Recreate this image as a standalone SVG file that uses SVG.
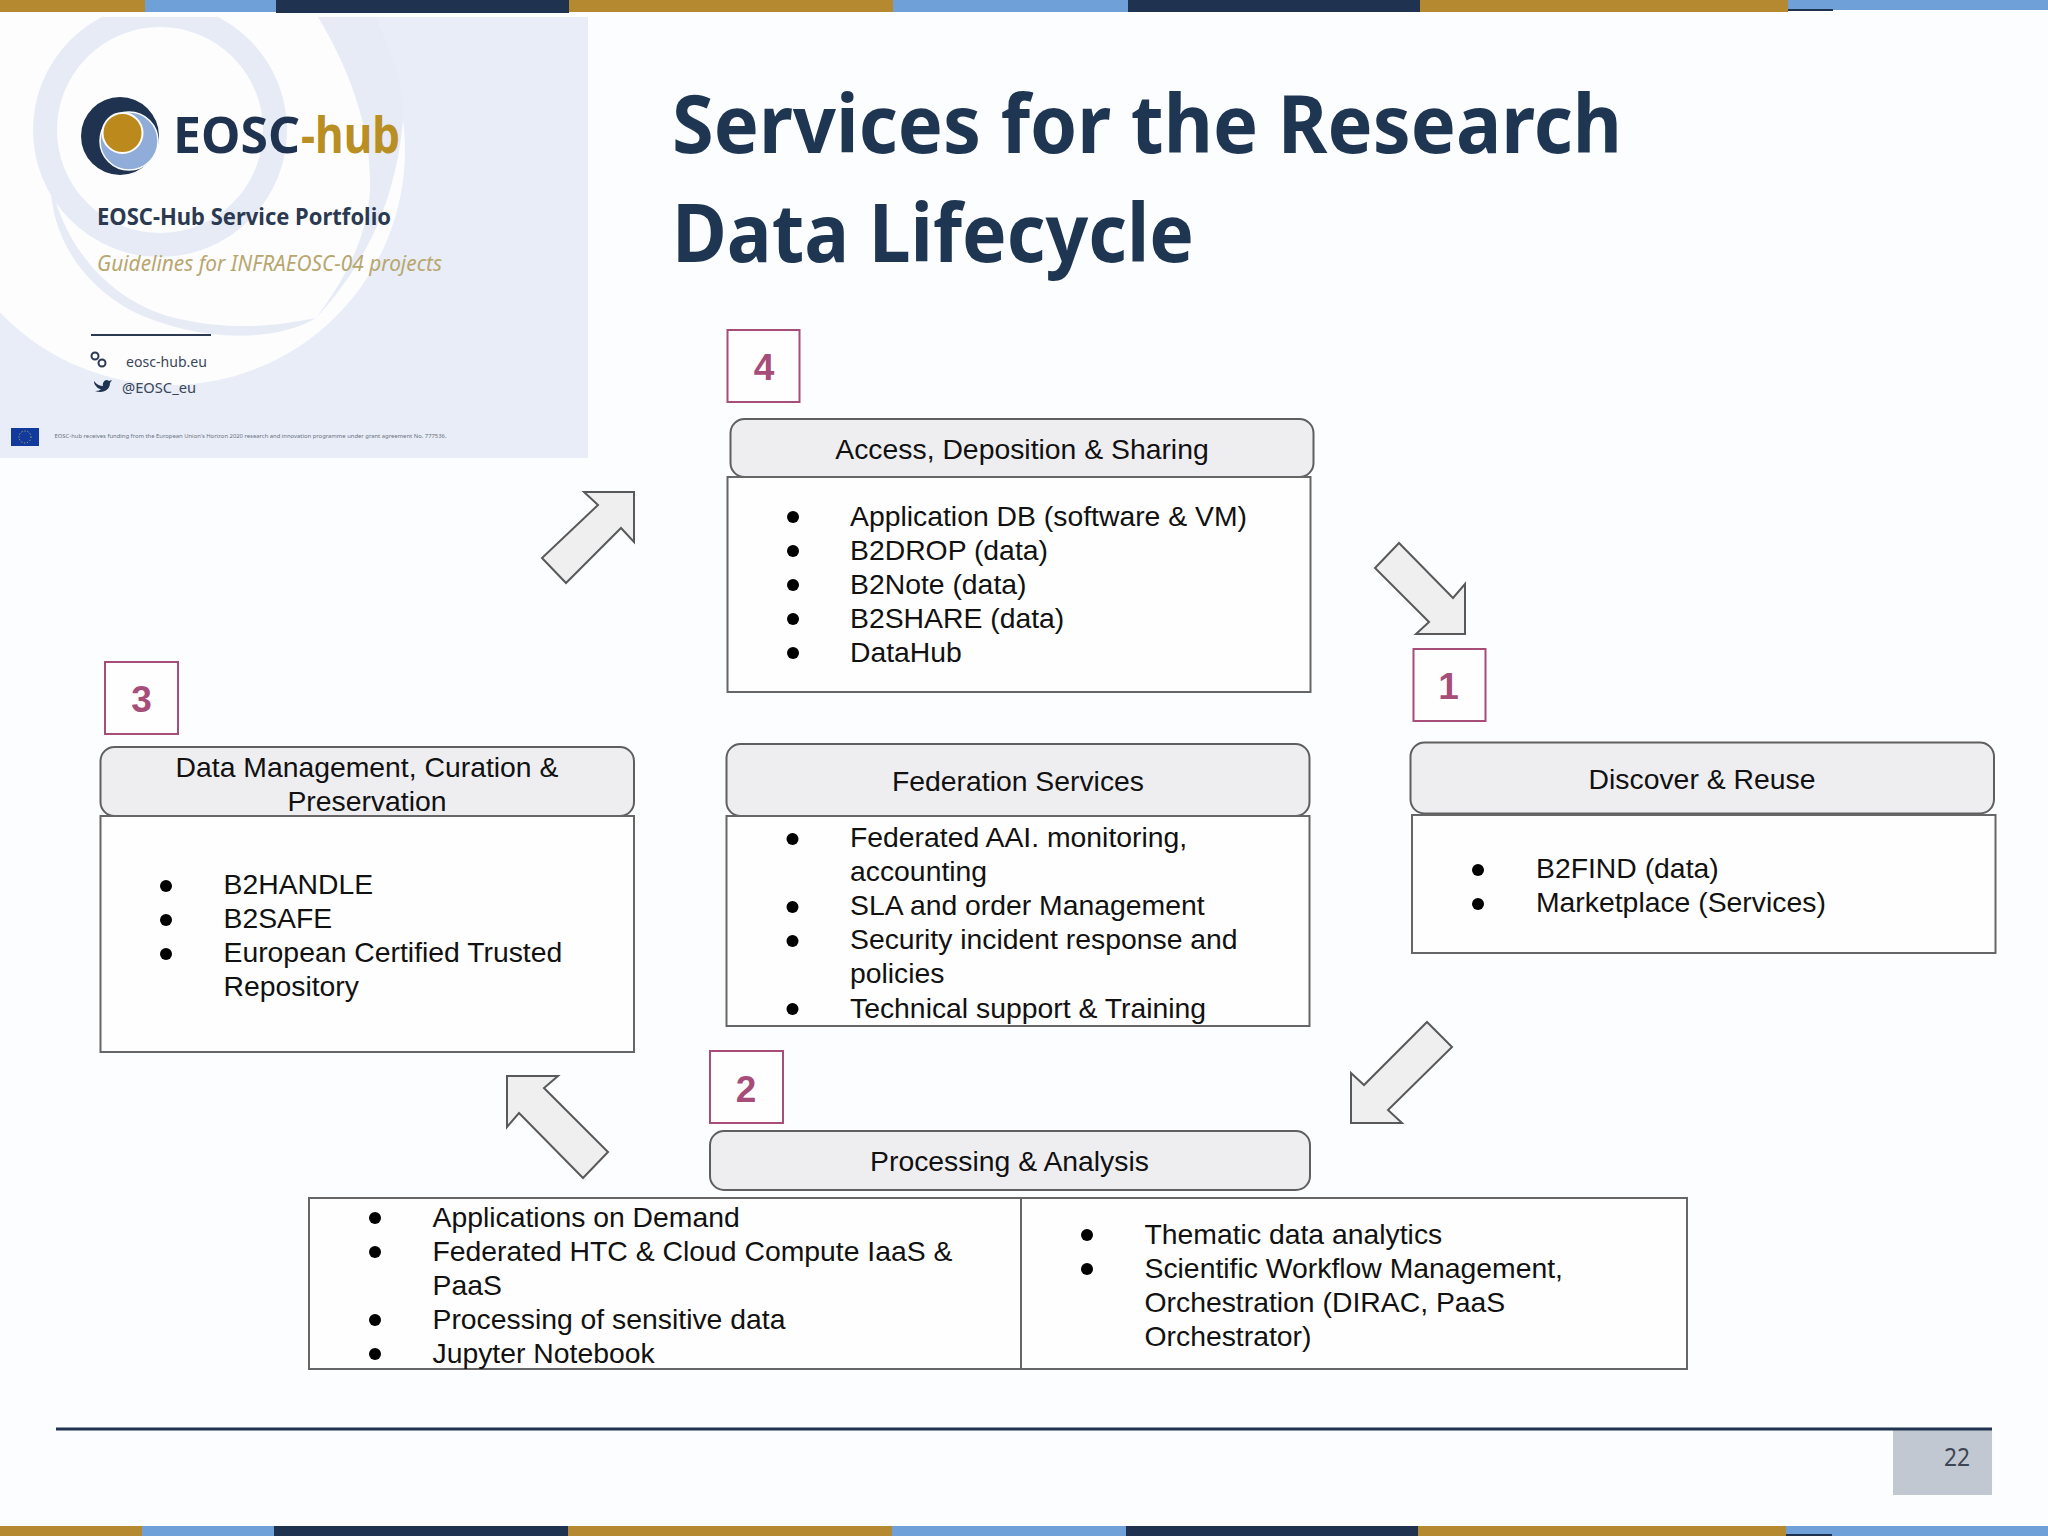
<svg xmlns="http://www.w3.org/2000/svg" width="2048" height="1536" viewBox="0 0 2048 1536">
<style>
text{font-family:"Liberation Sans",Arial,sans-serif;fill:#111}
.l{font-size:28.35px}
.c{text-anchor:middle;font-size:28.35px}
.hd{fill:#eeeef1;stroke:#5f5f5f;stroke-width:2}
.bx{fill:#fefefe;stroke:#666;stroke-width:2}
.sq{fill:#fefefe;stroke:#a64d79;stroke-width:2}
.n{font-size:37px;font-weight:bold;fill:#a64d79;text-anchor:middle}
.ar{fill:#efefef;stroke:#595959;stroke-width:2;stroke-linejoin:miter}
.b{fill:#000}
.t{font-family:"Noto Sans","Open Sans",sans-serif;font-weight:bold;fill:#1f3652;font-size:80px}
.ins{font-family:"Noto Sans","Open Sans",sans-serif}
.gold{fill:#b5892f}.blue{fill:#6fa0d8}.dark{fill:#1f3350}
</style>
<rect width="2048" height="1536" fill="#fcfdfe"/>
<g id="top-bar">
<rect class="gold" x="0" y="0" width="145" height="12"/><rect class="blue" x="145" y="0" width="131" height="12"/><rect class="dark" x="276" y="0" width="293" height="13"/><rect class="gold" x="569" y="0" width="324" height="12"/><rect class="blue" x="893" y="0" width="235" height="12"/><rect class="dark" x="1128" y="0" width="292" height="12"/><rect class="gold" x="1420" y="0" width="368" height="12"/><rect class="blue" x="1788" y="0" width="260" height="10"/><rect class="dark" x="1788" y="9" width="45" height="2"/>
</g>
<g id="bottom-bar">
<rect class="gold" x="0" y="1526" width="142" height="10"/><rect class="blue" x="142" y="1526" width="132" height="10"/><rect class="dark" x="274" y="1526" width="294" height="10"/><rect class="gold" x="568" y="1526" width="324" height="10"/><rect class="blue" x="892" y="1526" width="234" height="10"/><rect class="dark" x="1126" y="1526" width="292" height="10"/><rect class="gold" x="1418" y="1526" width="368" height="10"/><rect class="blue" x="1786" y="1526" width="262" height="10"/><rect class="dark" x="1786" y="1534" width="46" height="2"/>
</g>
<g id="inset">
<clipPath id="insclip"><rect x="0" y="17" width="588" height="441"/></clipPath>
<rect x="0" y="17" width="588" height="441" fill="#e8edf7"/>
<g clip-path="url(#insclip)">
<circle cx="170" cy="150" r="235" fill="#fdfdfe"/>
<path d="M318,17 C350,70 372,130 370,190 C368,235 345,280 316,318 C360,270 395,210 403,120 C405,85 390,50 375,17Z" fill="#e6ebf5"/>
<path d="M50,177 C60,240 105,300 175,318 C235,332 280,325 316,318 C270,345 190,340 130,310 C85,285 50,240 50,177Z" fill="#e6ebf5"/>
<circle cx="160" cy="130" r="115" fill="none" stroke="#e6ebf5" stroke-width="24"/>
</g>
<g id="logo">
<circle cx="120" cy="136" r="39" fill="#1f3350"/>
<circle cx="129" cy="141" r="29" fill="#8fadd8" stroke="#fdfdfe" stroke-width="1.5"/>
<circle cx="122.5" cy="133" r="20" fill="#bc8a1c" stroke="#fdfdfe" stroke-width="2"/>
<text class="ins" x="173" y="153" font-weight="bold" style="fill:#1f3350;font-size:50px" textLength="127" lengthAdjust="spacingAndGlyphs">EOSC</text>
<text class="ins" x="301" y="153" font-weight="bold" style="fill:#b98e22;font-size:50px" textLength="99" lengthAdjust="spacingAndGlyphs">-hub</text>
</g>
<text class="ins" x="97" y="225" font-weight="bold" style="fill:#2b3a50;font-size:24px" textLength="294" lengthAdjust="spacingAndGlyphs">EOSC-Hub Service Portfolio</text>
<text class="ins" x="97" y="271" font-style="italic" style="fill:#b8a66f;font-size:21px" textLength="345" lengthAdjust="spacingAndGlyphs">Guidelines for INFRAEOSC-04 projects</text>
<rect x="91" y="334" width="120" height="2" fill="#2b3a50"/>
<g fill="none" stroke="#2b3a50" stroke-width="2"><circle cx="95" cy="356" r="3.5"/><circle cx="102" cy="363" r="3.5"/></g>
<text class="ins" x="126" y="367" style="fill:#3a4658;font-size:15px" textLength="81" lengthAdjust="spacingAndGlyphs">eosc-hub.eu</text>
<path d="M94,381 C97,385 100,386 103,386 C102,382 106,378 109,381 L112,380 L110,383 C110,390 103,394 95,391 C99,391 100,390 101,389 C98,389 97,387 96,386 C95,385 94,384 94,381Z" fill="#1f3350"/>
<text class="ins" x="122" y="393" style="fill:#3a4658;font-size:15px" textLength="74" lengthAdjust="spacingAndGlyphs">@EOSC_eu</text>
<rect x="11" y="428" width="28" height="18" fill="#123a9c"/>
<circle cx="25" cy="437" r="6" fill="none" stroke="#c9c25a" stroke-width="1" stroke-dasharray="1 2"/>
<text class="ins" x="54.500" y="438" style="fill:#6a7280;font-size:5.500px" textLength="392" lengthAdjust="spacingAndGlyphs">EOSC-hub receives funding from the European Union's Horizon 2020 research and innovation programme under grant agreement No. 777536.</text>
</g>
<g id="title">
<text class="t" x="672" y="153" textLength="950" lengthAdjust="spacingAndGlyphs">Services for the Research</text>
<text class="t" x="672" y="262" textLength="522" lengthAdjust="spacingAndGlyphs">Data Lifecycle</text>
</g>
<g id="connectors">
<polygon class="ar" points="584,492 634,492 634,542 621,528 566,583 542,558 598,505"/>
<polygon class="ar" points="1399,543 1375,568 1429,622 1416,634 1465,634 1465,584 1453,598"/>
<polygon class="ar" points="1427,1022 1452,1047 1388,1110 1402,1123 1351,1123 1351,1073 1364,1085"/>
<polygon class="ar" points="507,1076 558,1076 544,1088 608,1152 583,1178 519,1113 507,1127"/>
</g>
<g id="node-access">
<rect class="sq" x="727.500" y="330" width="72" height="72"/><text class="n" x="764" y="380">4</text>
<rect class="hd" x="730.500" y="419" width="583" height="58" rx="14"/><text class="c" x="1022" y="459">Access, Deposition &amp; Sharing</text>
<rect class="bx" x="727.500" y="477" width="583" height="215"/>
<circle class="b" cx="793" cy="517" r="6"/><circle class="b" cx="793" cy="551" r="6"/><circle class="b" cx="793" cy="585" r="6"/><circle class="b" cx="793" cy="619" r="6"/><circle class="b" cx="793" cy="653" r="6"/>
<text class="l" x="850" y="525.500">Application DB (software &amp; VM)</text><text class="l" x="850" y="559.500">B2DROP (data)</text><text class="l" x="850" y="594">B2Note (data)</text><text class="l" x="850" y="628">B2SHARE (data)</text><text class="l" x="850" y="662">DataHub</text>
</g>
<g id="node-discover">
<rect class="sq" x="1413.500" y="649" width="72" height="72"/><text class="n" x="1448.500" y="699">1</text>
<rect class="hd" x="1410.500" y="742.500" width="583.500" height="71" rx="14"/><text class="c" x="1702" y="789">Discover &amp; Reuse</text>
<rect class="bx" x="1412" y="815" width="583.500" height="138"/>
<circle class="b" cx="1478" cy="870" r="6"/><circle class="b" cx="1478" cy="904" r="6"/>
<text class="l" x="1536" y="878">B2FIND (data)</text><text class="l" x="1536" y="912">Marketplace (Services)</text>
</g>
<g id="node-federation">
<rect class="hd" x="726.500" y="744" width="583" height="72" rx="14"/><text class="c" x="1018" y="791">Federation Services</text>
<rect class="bx" x="726.500" y="816" width="583" height="210"/>
<circle class="b" cx="792.500" cy="839" r="6"/><circle class="b" cx="792.500" cy="907" r="6"/><circle class="b" cx="792.500" cy="941" r="6"/><circle class="b" cx="792.500" cy="1009" r="6"/>
<text class="l" x="850" y="847">Federated AAI. monitoring,</text><text class="l" x="850" y="881">accounting</text><text class="l" x="850" y="915">SLA and order Management</text><text class="l" x="850" y="949">Security incident response and</text><text class="l" x="850" y="983">policies</text><text class="l" x="850" y="1017.500">Technical support &amp; Training</text>
</g>
<g id="node-data">
<rect class="sq" x="105" y="662" width="73" height="72"/><text class="n" x="141.500" y="712">3</text>
<rect class="hd" x="100.500" y="747" width="533.500" height="69" rx="14"/><text class="c" x="367" y="777">Data Management, Curation &amp;</text><text class="c" x="367" y="811">Preservation</text>
<rect class="bx" x="100.500" y="816" width="533.500" height="236"/>
<circle class="b" cx="166" cy="886" r="6"/><circle class="b" cx="166" cy="920" r="6"/><circle class="b" cx="166" cy="954" r="6"/>
<text class="l" x="223.500" y="893.500">B2HANDLE</text><text class="l" x="223.500" y="927.500">B2SAFE</text><text class="l" x="223.500" y="961.500">European Certified Trusted</text><text class="l" x="223.500" y="995.500">Repository</text>
</g>
<g id="node-processing">
<rect class="sq" x="710" y="1051" width="73" height="72"/><text class="n" x="746" y="1102">2</text>
<rect class="hd" x="710" y="1131" width="600" height="59" rx="14"/><text class="c" x="1009.500" y="1171">Processing &amp; Analysis</text>
<rect class="bx" x="309" y="1198" width="1378" height="171"/>
<line x1="1021" y1="1198" x2="1021" y2="1369" stroke="#666" stroke-width="2"/>
<circle class="b" cx="375" cy="1218" r="6"/><circle class="b" cx="375" cy="1252" r="6"/><circle class="b" cx="375" cy="1320" r="6"/><circle class="b" cx="375" cy="1354" r="6"/>
<text class="l" x="432.500" y="1226.500">Applications on Demand</text><text class="l" x="432.500" y="1260.500">Federated HTC &amp; Cloud Compute IaaS &amp;</text><text class="l" x="432.500" y="1294.500">PaaS</text><text class="l" x="432.500" y="1328.500">Processing of sensitive data</text><text class="l" x="432.500" y="1362.500">Jupyter Notebook</text>
<circle class="b" cx="1087" cy="1235" r="6"/><circle class="b" cx="1087" cy="1269" r="6"/>
<text class="l" x="1144.500" y="1243.500">Thematic data analytics</text><text class="l" x="1144.500" y="1277.500">Scientific Workflow Management,</text><text class="l" x="1144.500" y="1311.500">Orchestration (DIRAC, PaaS</text><text class="l" x="1144.500" y="1345.500">Orchestrator)</text>
</g>
<g id="footer">
<rect x="1893" y="1430" width="99" height="65" fill="#c2c8d1"/>
<line x1="56" y1="1429" x2="1992" y2="1429" stroke="#1f3350" stroke-width="3"/>
<text class="ins" x="1944" y="1466" style="fill:#3d4654;font-size:25px" textLength="26" lengthAdjust="spacingAndGlyphs">22</text>
</g>
</svg>
